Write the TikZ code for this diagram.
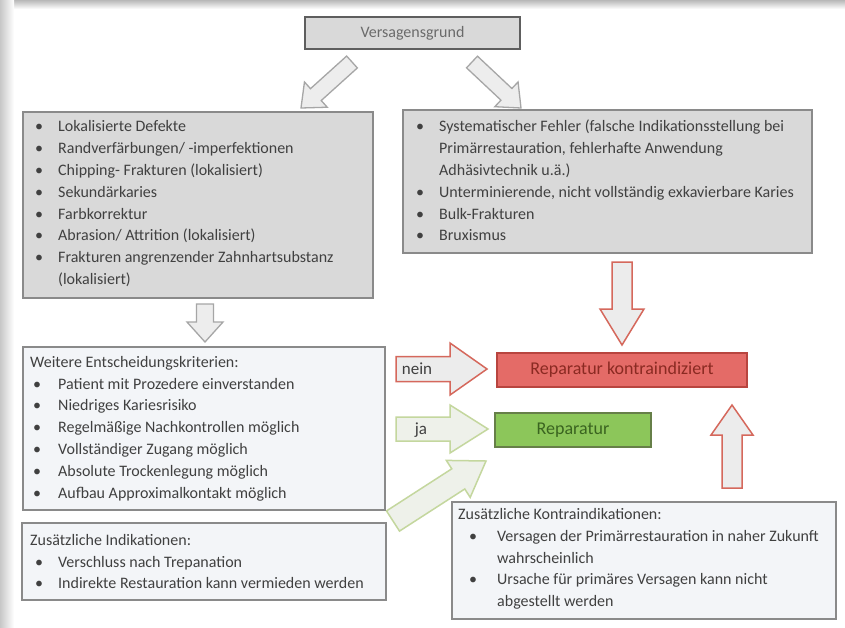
\documentclass[tikz,border=0pt]{standalone}
\usepackage{fontspec}
\setmainfont{Carlito}
\usetikzlibrary{calc}
\definecolor{grayfill}{HTML}{D9D9D9}
\definecolor{grayline}{HTML}{8A8A8A}
\definecolor{vgline}{HTML}{5E5E5E}
\definecolor{vgtext}{HTML}{6A6A6A}
\definecolor{lightfill}{HTML}{F3F5F8}
\definecolor{txtcol}{HTML}{404040}
\definecolor{garrowline}{HTML}{A6A6A6}
\definecolor{garrowfill}{HTML}{EDEDED}
\definecolor{rarrowline}{HTML}{D5685C}
\definecolor{rarrowfill}{HTML}{ECECEC}
\definecolor{gnarrowline}{HTML}{C4D79E}
\definecolor{gnarrowfill}{HTML}{EEF1EA}
\definecolor{redfill}{HTML}{E46B67}
\definecolor{redline}{HTML}{B8453F}
\definecolor{greenfill}{HTML}{8CC65A}
\definecolor{greenline}{HTML}{667F48}
\definecolor{redtxt}{HTML}{8A2A22}
\definecolor{greentxt}{HTML}{3A6420}
\newcommand\bul[1][23pt]{\makebox[#1][l]{\textbullet}}
% block arrow: style, tail, tip, half shaft, half head, head length
\newcommand\barrow[6]{%
  \coordinate (bh) at ($(#3)!#6!(#2)$);
  \draw[#1] ($(#2)!#4!90:(#3)$) -- ($(bh)!#4!90:(#3)$) -- ($(bh)!#5!90:(#3)$) -- (#3)
    -- ($(bh)!#5!-90:(#3)$) -- ($(bh)!#4!-90:(#3)$) -- ($(#2)!#4!-90:(#3)$) -- cycle;}
\tikzset{
 box/.style={anchor=north west, inner sep=0pt, outer sep=0pt, line width=1.5pt},
 graybox/.style={box, draw=grayline, fill=grayfill},
 lightbox/.style={box, draw=grayline, fill=lightfill},
 txt/.style={anchor=north west, inner sep=0pt, align=left, text=txtcol, font=\fontsize{16}{21.8}\selectfont},
 garrow/.style={draw=garrowline, fill=garrowfill, line width=1.3pt, line join=miter},
 rarrow/.style={draw=rarrowline, fill=rarrowfill, line width=1.5pt, line join=miter},
 gnarrow/.style={draw=gnarrowline, fill=gnarrowfill, line width=1.5pt, line join=miter},
}
\begin{document}
\begin{tikzpicture}[x=1pt,y=-1pt]
\useasboundingbox (0,0) rectangle (845,627);
\fill[white] (0,0) rectangle (845,627);
% page shadow
\shade[top color=black!28, bottom color=white] (0,0) rectangle (845,9);
\shade[left color=black!22, right color=white] (0,0) rectangle (14,627);

% arrows
\coordinate (a1s) at (352,62); \coordinate (a1e) at (301,108);
\barrow{garrow}{a1s}{a1e}{8pt}{17pt}{20pt}
\coordinate (a2s) at (472,62); \coordinate (a2e) at (521,108);
\barrow{garrow}{a2s}{a2e}{8pt}{17pt}{20pt}
\coordinate (a3s) at (205,304); \coordinate (a3e) at (205,342);
\barrow{garrow}{a3s}{a3e}{8.5pt}{18pt}{20pt}
\coordinate (a4s) at (622,262); \coordinate (a4e) at (622,345);
\barrow{rarrow}{a4s}{a4e}{10pt}{22pt}{36pt}
\coordinate (a5s) at (396,369); \coordinate (a5e) at (487,369);
\barrow{rarrow}{a5s}{a5e}{12.5pt}{26pt}{37pt}
\coordinate (a6s) at (396,429); \coordinate (a6e) at (488,429);
\barrow{gnarrow}{a6s}{a6e}{12pt}{24pt}{38pt}
\coordinate (a7s) at (393,521); \coordinate (a7e) at (486,461);
\barrow{gnarrow}{a7s}{a7e}{12pt}{22pt}{33pt}
\coordinate (a8s) at (732,488); \coordinate (a8e) at (732,405);
\barrow{rarrow}{a8s}{a8e}{10pt}{21pt}{30pt}

% top box
\node[box, anchor=center, draw=vgline, fill=grayfill, line width=2pt, minimum width=215pt, minimum height=32pt,
      text=vgtext, font=\fontsize{16}{19}\selectfont] (vg) at (412.5,33) {Versagensgrund};

% left box 1
\node[graybox, minimum width=350pt, minimum height=186pt] (lb1) at (23,112) {};
\node[txt] (lb1t) at (35,117.7) {\rule{0pt}{14pt}\bul Lokalisierte Defekte\\
\bul Randverfärbungen/ -imperfektionen\\
\bul Chipping- Frakturen (lokalisiert)\\
\bul Sekundärkaries\\
\bul Farbkorrektur\\
\bul Abrasion/ Attrition (lokalisiert)\\
\bul Frakturen angrenzender Zahnhartsubstanz\\
\hspace*{23pt}(lokalisiert)};

% right box 1
\node[graybox, minimum width=409pt, minimum height=143pt] (rb1) at (403,110) {};
\node[txt] (rb1t) at (416,117.7) {\rule{0pt}{14pt}\bul Systematischer Fehler (falsche Indikationsstellung bei\\
\hspace*{23pt}Primärrestauration, fehlerhafte Anwendung\\
\hspace*{23pt}Adhäsivtechnik u.ä.)\\
\bul Unterminierende, nicht vollständig exkavierbare Karies\\
\bul Bulk-Frakturen\\
\bul Bruxismus};

% left box 2
\node[lightbox, minimum width=362pt, minimum height=163pt] (lb2) at (23,347) {};
\node[txt] (lb2t) at (33,353) {\rule{0pt}{14pt}\hspace*{-3pt}Weitere Entscheidungskriterien:\\
\bul[25pt]Patient mit Prozedere einverstanden\\
\bul[25pt]Niedriges Kariesrisiko\\
\bul[25pt]Regelmäßige Nachkontrollen möglich\\
\bul[25pt]Vollständiger Zugang möglich\\
\bul[25pt]Absolute Trockenlegung möglich\\
\bul[25pt]Aufbau Approximalkontakt möglich};

% left box 3
\node[lightbox, minimum width=364pt, minimum height=77pt] (lb3) at (22,523) {};
\node[txt] (lb3t) at (35,531) {\rule{0pt}{14pt}\hspace*{-5pt}Zusätzliche Indikationen:\\
\bul Verschluss nach Trepanation\\
\bul Indirekte Restauration kann vermieden werden};

% result boxes
\node[box, draw=redline, fill=redfill, minimum width=250pt, minimum height=34pt,
      text=redtxt, font=\fontsize{18}{21}\selectfont] (rk) at (497,353) {};
\node[text=redtxt, font=\fontsize{18}{21}\selectfont, inner sep=0pt] (rkt) at (rk.center) {Reparatur kontraindiziert};
\node[box, draw=greenline, fill=greenfill, minimum width=156pt, minimum height=34pt] (rp) at (495,413) {};
\node[text=greentxt, font=\fontsize{18}{21}\selectfont, inner sep=0pt] (rpt) at (rp.center) {Reparatur};

% arrow labels
\node[text=txtcol, font=\fontsize{17}{20}\selectfont, inner sep=0pt] (nein) at (417,369) {nein};
\node[text=txtcol, font=\fontsize{17}{20}\selectfont, inner sep=0pt] (ja) at (421,430) {ja};

% right box 3
\node[lightbox, minimum width=384pt, minimum height=117pt] (rb3) at (452,502) {};
\node[txt] (rb3t) at (469,505.3) {\rule{0pt}{14pt}\hspace*{-11pt}Zusätzliche Kontraindikationen:\\
\bul[28pt]Versagen der Primärrestauration in naher Zukunft\\
\hspace*{28pt}wahrscheinlich\\
\bul[28pt]Ursache für primäres Versagen kann nicht\\
\hspace*{28pt}abgestellt werden};
\end{tikzpicture}
\end{document}
